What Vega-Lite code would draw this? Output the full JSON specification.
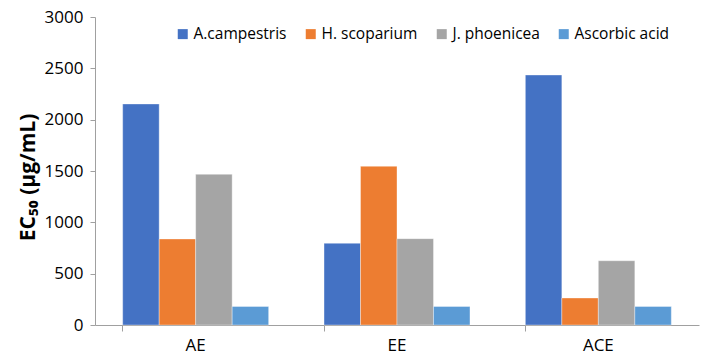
{
  "$schema": "https://vega.github.io/schema/vega-lite/v6.json",
  "width": 604,
  "height": 308,
  "autosize": "none",
  "padding": {"left": 95, "top": 17, "right": 6, "bottom": 33},
  "background": "white",
  "config": {"view": {"stroke": null}, "font": "Open Sans"},
  "data": {
    "values": [
      {"extract": "AE", "series": "A.campestris", "ec50": 2153},
      {"extract": "AE", "series": "H. scoparium", "ec50": 838},
      {"extract": "AE", "series": "J. phoenicea", "ec50": 1468},
      {"extract": "AE", "series": "Ascorbic acid", "ec50": 180},
      {"extract": "EE", "series": "A.campestris", "ec50": 796},
      {"extract": "EE", "series": "H. scoparium", "ec50": 1546},
      {"extract": "EE", "series": "J. phoenicea", "ec50": 841},
      {"extract": "EE", "series": "Ascorbic acid", "ec50": 180},
      {"extract": "ACE", "series": "A.campestris", "ec50": 2435},
      {"extract": "ACE", "series": "H. scoparium", "ec50": 263},
      {"extract": "ACE", "series": "J. phoenicea", "ec50": 626},
      {"extract": "ACE", "series": "Ascorbic acid", "ec50": 180}
    ]
  },
  "mark": {"type": "bar", "stroke": "white", "strokeWidth": 0.6, "strokeOpacity": 0.6},
  "encoding": {
    "x": {
      "field": "extract",
      "type": "nominal",
      "sort": ["AE", "EE", "ACE"],
      "scale": {"paddingInner": 0.275, "paddingOuter": 0.1375},
      "axis": {
        "title": null,
        "labelAngle": 0,
        "labelFontSize": 17,
        "labelColor": "black",
        "domainColor": "#A0A0A0",
        "tickColor": "#A0A0A0",
        "bandPosition": 0,
        "tickSize": 6,
        "labelPadding": 6
      }
    },
    "xOffset": {
      "field": "series",
      "type": "nominal",
      "sort": ["A.campestris", "H. scoparium", "J. phoenicea", "Ascorbic acid"],
      "scale": {"paddingInner": 0, "paddingOuter": 0}
    },
    "y": {
      "field": "ec50",
      "type": "quantitative",
      "scale": {"domain": [0, 3000], "nice": false},
      "axis": {
        "values": [0, 500, 1000, 1500, 2000, 2500, 3000],
        "format": "d",
        "grid": false,
        "title": "EC₅₀ (μg/mL)",
        "titleFontSize": 21,
        "titleFontWeight": "bold",
        "titleColor": "black",
        "titlePadding": 6,
        "titleY": 160,
        "labelFontSize": 17,
        "labelColor": "black",
        "domainColor": "#A0A0A0",
        "tickColor": "#A0A0A0",
        "tickSize": 5,
        "labelPadding": 7
      }
    },
    "color": {
      "field": "series",
      "type": "nominal",
      "sort": ["A.campestris", "H. scoparium", "J. phoenicea", "Ascorbic acid"],
      "scale": {
        "domain": ["A.campestris", "H. scoparium", "J. phoenicea", "Ascorbic acid"],
        "range": ["#4472C4", "#ED7D31", "#A5A5A5", "#5B9BD5"]
      },
      "legend": {
        "title": null,
        "orient": "none",
        "direction": "horizontal",
        "legendX": 80,
        "legendY": 9,
        "symbolType": "square",
        "symbolSize": 100,
        "symbolStrokeWidth": 0,
        "labelFontSize": 15.5,
        "labelColor": "black",
        "labelOffset": 3,
        "columnPadding": 16
      }
    }
  }
}
